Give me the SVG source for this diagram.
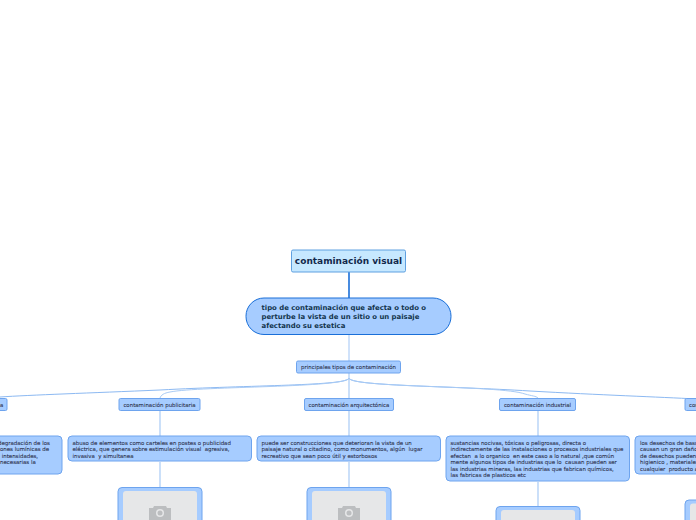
<svg xmlns="http://www.w3.org/2000/svg" width="696" height="520" viewBox="0 0 696 520">
<style>
text{font-family:"DejaVu Sans",Verdana,sans-serif;fill:#2b2f4a;white-space:pre}
.s{font-size:5.45px;stroke:#2b2f4a;stroke-width:.08px}
.b{fill:#a6ccff;stroke:#6ea4ee;stroke-width:1}
.c{fill:none;stroke:#a9cbf5;stroke-width:1.2}
.fr{fill:#a6ccff;stroke:#6ea4ee;stroke-width:1}
.g{fill:#e6e7e8}
.i{fill:#bcbec0}
</style>
<rect width="696" height="520" fill="#fff"/>
<g id="connectors">
<path d="M349 272V298" fill="none" stroke="#1a6fd8" stroke-width="1.6"/>
<path d="M349 335V361" fill="none" stroke="#bcd6f8" stroke-width="1.4"/>
<path class="c" d="M349 373V398M349 411V436M349 462V488"/>
<path class="c" d="M160 411V436M160 462V488M538 411V436M538 482V507"/>
<path d="M349 378C349 386 250 385 160 390C90 393 30 395 0 397M349 378C349 386 450 386 530 391C600 395 660 397 696 399" fill="none" stroke="#8cb9f2" stroke-width="1"/>
<path d="M349 378C347 388 200 386 170 392C164 393 161 395 160 398M349 378C351 388 500 385 525 394C532 396 536 396 538 398" fill="none" stroke="#a9cbf5" stroke-width="1"/>
</g>
<g id="root"><rect x="291.500" y="250" width="114" height="22" rx="1.500" fill="#c6e8ff" stroke="#5fa0e0"/><text x="348.500" y="264" text-anchor="middle" font-size="9" font-weight="bold" style="fill:#13294b">contaminación visual</text></g>
<g id="definition"><rect x="246" y="298" width="205" height="36.500" rx="18" fill="#a6ccff" stroke="#1a6fd8"/><text font-size="6.9" font-weight="bold" style="fill:#12344d"><tspan x="261.500" y="310">tipo de contaminación que afecta o todo o</tspan><tspan x="261.500" y="319">perturbe la vista de un sitio o un paisaje</tspan><tspan x="261.500" y="327.500">afectando su estetica</tspan></text></g>
<g id="tipos"><rect class="b" x="296.500" y="361" width="104" height="12" rx="1.500"/><text class="s" x="348.500" y="369" text-anchor="middle">principales tipos de contaminación</text></g>
<g id="t-left"><rect class="b" x="-40" y="398.500" width="47" height="12" rx="1.500"/><text class="s" x="0" y="406.500">a</text></g>
<g id="t-pub"><rect class="b" x="119" y="398.500" width="81" height="12" rx="1.500"/><text class="s" x="159.500" y="406.500" text-anchor="middle">contaminación publicitaria</text></g>
<g id="t-arq"><rect class="b" x="304.500" y="398.500" width="89" height="12" rx="1.500"/><text class="s" x="349" y="406.500" text-anchor="middle">contaminación arquitectónica</text></g>
<g id="t-ind"><rect class="b" x="499.500" y="398.500" width="76" height="12" rx="1.500"/><text class="s" x="537.500" y="406.500" text-anchor="middle">contaminación industrial</text></g>
<g id="t-right"><rect class="b" x="685" y="398.500" width="60" height="12" rx="1.500"/><text class="s" x="689" y="406.500">contaminación</text></g>
<g id="d-left"><rect class="b" x="-60" y="436" width="122" height="38" rx="4"/><text class="s"><tspan x="-2" y="444.500">degradación de los</tspan><tspan x="0" y="451">ones lumínicas de</tspan><tspan x="0" y="457.500"> intensidades,</tspan><tspan x="0" y="464">necesarias la</tspan></text></g>
<g id="d-pub"><rect class="b" x="68" y="436" width="183.500" height="25" rx="4"/><text class="s"><tspan x="72.500" y="444.500">abuso de elementos como carteles en postes o publicidad</tspan><tspan x="72.500" y="451">eléctrica, que genera sobre estimulación visual  agresiva,</tspan><tspan x="72.500" y="457.500">invasiva  y simultanea</tspan></text></g>
<g id="d-arq"><rect class="b" x="257" y="436" width="183.500" height="25" rx="4"/><text class="s"><tspan x="261.500" y="444.500">puede ser construcciones que deterioran la vista de un</tspan><tspan x="261.500" y="451">paisaje natural o citadino, como monumentos, algún  lugar</tspan><tspan x="261.500" y="457.500">recreativo que sean poco útil y estorbosos</tspan></text></g>
<g id="d-ind"><rect class="b" x="446" y="436" width="183.500" height="45" rx="4"/><text class="s"><tspan x="450.500" y="444.500">sustancias nocivas, tóxicas o peligrosas, directa o</tspan><tspan x="450.500" y="451">indirectamente de las instalaciones o procesos industriales que</tspan><tspan x="450.500" y="457.500">efectan  a lo organico  en este caso a lo natural ,que común</tspan><tspan x="450.500" y="464">mente algunos tipos de industrias que lo  causan pueden ser</tspan><tspan x="450.500" y="470.500">las industrias mineras, las industrias que fabrican químicos,</tspan><tspan x="450.500" y="477">las fabricas de plasticos etc</tspan></text></g>
<g id="d-right"><rect class="b" x="635" y="436" width="120" height="38" rx="4"/><text class="s"><tspan x="640" y="444.500">los desechos de basura</tspan><tspan x="640" y="451">causan un gran daño</tspan><tspan x="640" y="457.500">de desechos pueden</tspan><tspan x="640" y="464">higienico , materiales</tspan><tspan x="640" y="470.500">cualquier  producto a</tspan></text></g>
<g id="img-pub"><rect class="fr" x="118" y="487.500" width="84" height="52" rx="4"/><rect x="123" y="491" width="74" height="45" rx="3" class="g"/><path class="i" d="M149 508h4l1-2h12l1 2h4v12h-22z"/><circle cx="160" cy="513" r="4" fill="#e6e7e8"/><circle cx="160" cy="513" r="2.500" class="i"/></g>
<g id="img-arq"><rect class="fr" x="307" y="487.500" width="84" height="52" rx="4"/><rect x="312" y="491" width="74" height="45" rx="3" class="g"/><path class="i" d="M338 508h4l1-2h12l1 2h4v12h-22z"/><circle cx="349" cy="513" r="4" fill="#e6e7e8"/><circle cx="349" cy="513" r="2.500" class="i"/></g>
<g id="img-ind"><rect class="fr" x="496" y="506.500" width="84" height="52" rx="4"/><rect x="501" y="510" width="74" height="45" rx="3" class="g"/></g>
<g id="img-right"><rect class="fr" x="685" y="500" width="84" height="52" rx="4"/><rect x="690" y="503.500" width="74" height="45" rx="3" class="g"/></g>
</svg>
